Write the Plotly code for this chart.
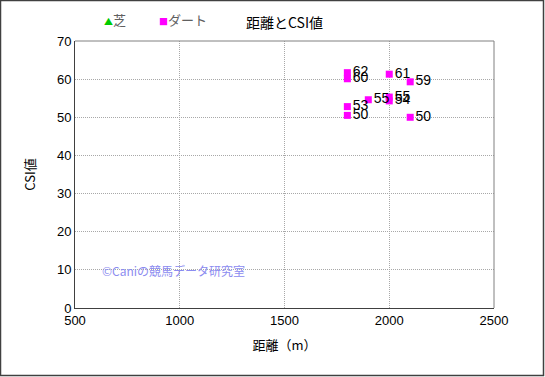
import plotly.graph_objects as go

# Data
turf_x = []
turf_y = []
dirt_x = [1800, 1800, 2000, 2100, 1900, 2000, 2000, 1800, 1800, 2100]
dirt_y = [61.7, 60.1, 61.3, 59.3, 54.6, 55.3, 54.3, 52.8, 50.5, 50.0]
dirt_labels = ["62", "60", "61", "59", "55", "55", "54", "53", "50", "50"]

x_ticks = [500, 1000, 1500, 2000, 2500]
y_ticks = [0, 10, 20, 30, 40, 50, 60, 70]

num_font = "Liberation Sans, Arial, sans-serif"
jp_font = "Noto Sans CJK JP, sans-serif"

W, H = 545, 377
L, R, T, B = 75, 51, 41, 69
PW, PH = W - L - R, H - T - B


def px_x(p):
    return (p - L) / PW


def px_y(p):
    return (H - B - p) / PH


fig = go.Figure()
fig.add_trace(go.Scatter(
    x=turf_x, y=turf_y, mode="markers", name="芝",
    marker=dict(symbol="triangle-up", color="#00cc00", size=8,
                line=dict(color="#008000", width=1)),
    showlegend=False,
))
fig.add_trace(go.Scatter(
    x=dirt_x, y=dirt_y, mode="markers+text", name="ダート",
    text=dirt_labels, textposition="middle right",
    textfont=dict(family=num_font, size=14, color="#000000"),
    marker=dict(symbol="square", color="#ff00ff", size=7,
                line=dict(width=0)),
    showlegend=False, cliponaxis=False,
))

axis_common = dict(
    showgrid=True, gridcolor="#a8a8a8", griddash="1px,1px", gridwidth=1,
    zeroline=False, showline=True, linecolor="#404040", linewidth=1,
    ticks="", tickfont=dict(family=num_font, size=13, color="#000000"),
)

fig.update_layout(
    width=W, height=H,
    margin=dict(l=L, r=R, t=T, b=B),
    paper_bgcolor="#ffffff", plot_bgcolor="#ffffff",
    title=dict(text="距離とCSI値", x=0.5, xref="paper", xanchor="center",
               y=1 - 23 / H, yanchor="middle",
               font=dict(family=jp_font, size=14, color="#000000")),
    xaxis=dict(range=[500, 2500], tickvals=x_ticks,
               title=dict(text="距離（m）", standoff=14,
                          font=dict(family=jp_font, size=13, color="#000000")),
               **axis_common),
    yaxis=dict(range=[0, 70], tickvals=y_ticks,
               title=dict(text="CSI値", standoff=18,
                          font=dict(family=jp_font, size=13, color="#000000")),
               **axis_common),
    shapes=[
        dict(type="line", xref="paper", yref="paper", x0=0, x1=1, y0=1, y1=1,
             line=dict(color="#808080", width=1)),
        dict(type="line", xref="paper", yref="paper", x0=1, x1=1, y0=0, y1=1,
             line=dict(color="#808080", width=1)),
        dict(type="rect", xref="paper", yref="paper",
             x0=px_x(0.5), x1=px_x(543.5), y0=px_y(375.5), y1=px_y(0.5),
             line=dict(color="#404040", width=1.5), layer="above"),
    ],
    annotations=[
        dict(text="<span style='color:#00cc00;font-size:9px'>▲</span>芝",
             xref="paper", yref="paper",
             x=px_x(102), y=px_y(19), xanchor="left", yanchor="middle",
             showarrow=False,
             font=dict(family=jp_font, size=13, color="#606060")),
        dict(text="<span style='color:#ff00ff;font-size:9px'>■</span>ダート",
             xref="paper", yref="paper",
             x=px_x(157), y=px_y(19), xanchor="left", yanchor="middle",
             showarrow=False,
             font=dict(family=jp_font, size=13, color="#606060")),
        dict(text="©Caniの競馬データ研究室", xref="paper", yref="paper",
             x=px_x(100), y=px_y(270), xanchor="left", yanchor="middle",
             showarrow=False,
             font=dict(family=jp_font, size=12, color="#8c8cf0")),
    ],
)

fig.write_html("out.html", config={"displayModeBar": False},
               post_script="document.body.style.margin='0';")
